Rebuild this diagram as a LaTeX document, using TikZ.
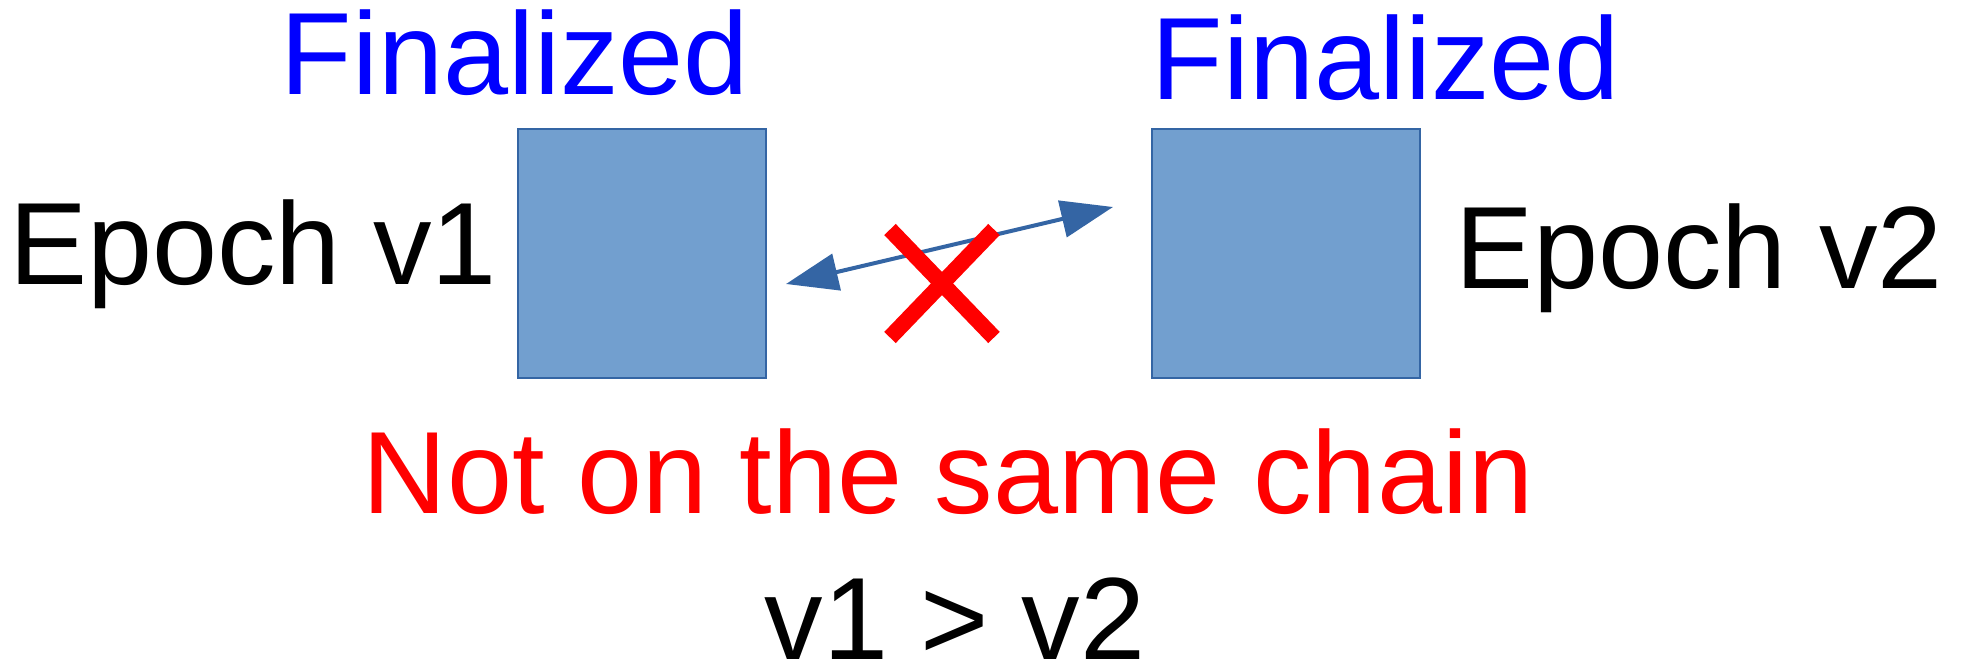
\documentclass[tikz,border=0pt]{standalone}
\usepackage{fontspec}
\setmainfont{Liberation Sans}
\usetikzlibrary{arrows.meta}
\definecolor{boxfill}{HTML}{729FCF}
\definecolor{boxline}{HTML}{3465A4}
\definecolor{arrowblue}{HTML}{3465A4}
\definecolor{pureblue}{HTML}{0000FF}
\definecolor{purered}{HTML}{FF0000}
\tikzset{
  bigtext/.style={font=\fontsize{117}{140}\selectfont, inner sep=0pt, anchor=base},
  blockbox/.style={draw=boxline, fill=boxfill, line width=1.5pt, inner sep=0pt},
  linkarrow/.style={draw=arrowblue, line width=4pt, {Triangle[length=52pt,width=37pt]}-{Triangle[length=52pt,width=37pt]}},
  crossline/.style={draw=purered, line width=16pt, line cap=butt},
}
\begin{document}
\begin{tikzpicture}[x=1pt,y=-1pt]
\useasboundingbox (0,0) rectangle (1963,663);
\node[blockbox, minimum width=248pt, minimum height=249pt] (b1) at (642,253.5) {};
\node[blockbox, minimum width=268pt, minimum height=249pt] (b2) at (1286,253.5) {};
\node[bigtext, text=pureblue] (f1) at (515,95) {Finalized};
\node[bigtext, text=pureblue] (f2) at (1386,100) {Finalized};
\node[bigtext] (e1) at (253,284) {Epoch v1};
\node[bigtext] (e2) at (1699,288) {Epoch v2};
\node[bigtext, text=purered] (nc) at (948,513) {Not on the same chain};
\node[bigtext] (vv) at (955,659) {v1 > v2};
\coordinate (a1) at (786,284);
\coordinate (a2) at (1113,207);
\draw[linkarrow] (a1) -- (a2);
\coordinate (xc) at (942,283.5);
\draw[crossline] ([shift={(-52,-54)}]xc) -- ([shift={(52,54)}]xc);
\draw[crossline] ([shift={(52,-54)}]xc) -- ([shift={(-52,54)}]xc);
\end{tikzpicture}
\end{document}
